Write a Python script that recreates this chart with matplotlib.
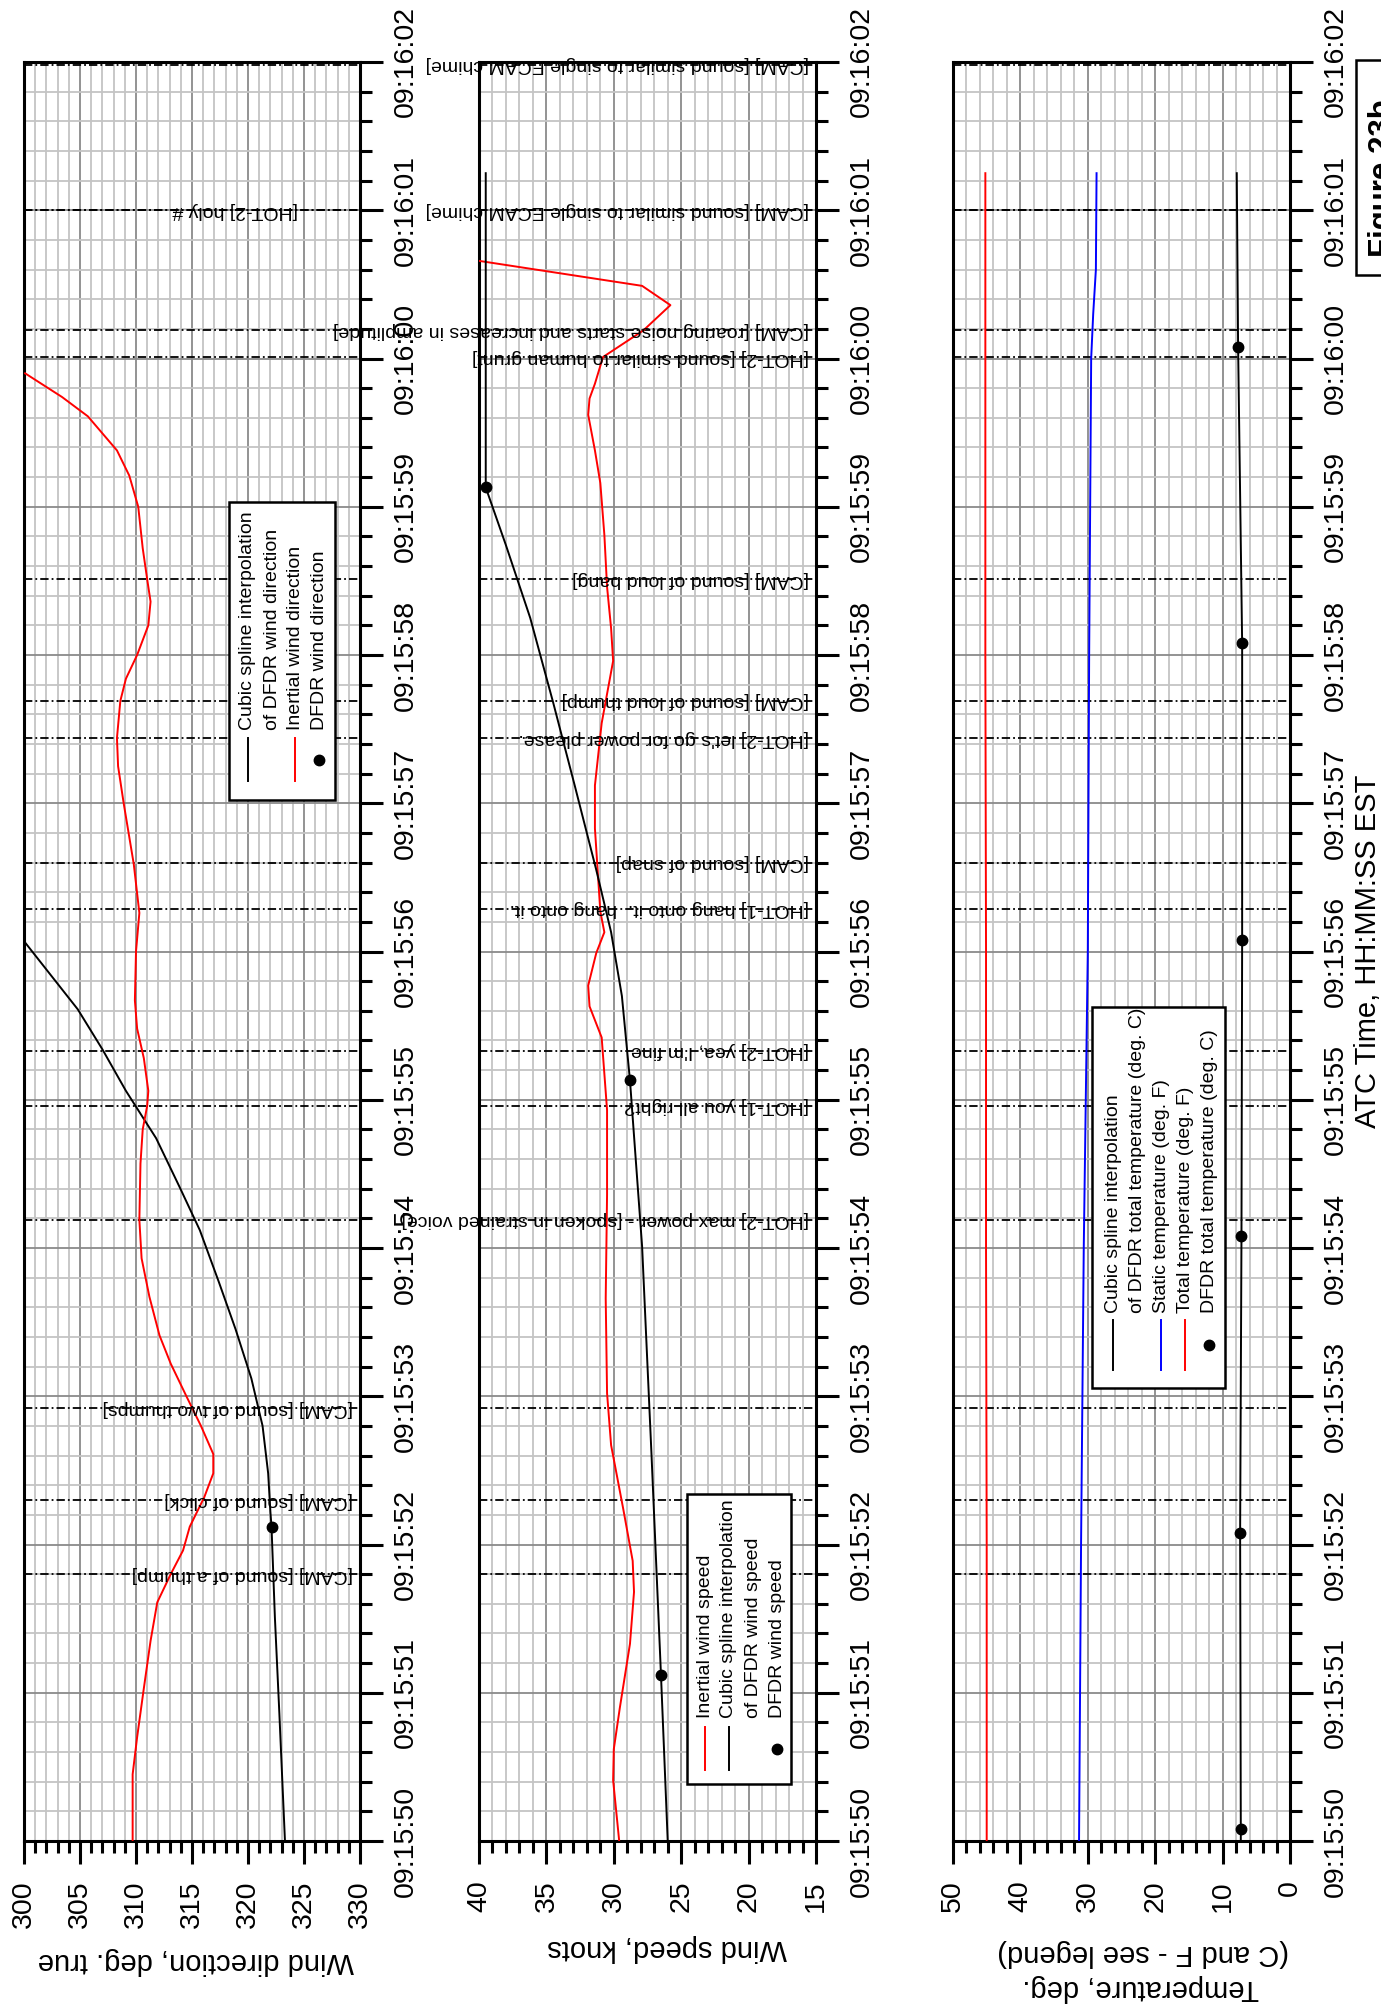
import matplotlib
matplotlib.use("Agg")
import matplotlib.pyplot as plt
import matplotlib.transforms as mtransforms
from matplotlib.ticker import MultipleLocator
from matplotlib.lines import Line2D
from matplotlib.patches import Rectangle

plt.rcParams['font.family'] = ['Liberation Sans', 'DejaVu Sans']
plt.rcParams['lines.scale_dashes'] = False

# ---------------- data (time in seconds after 09:15:00) ----------------
# Wind direction, deg. true
wdir_inertial_t = [50.0, 50.45, 50.7, 51.03, 51.35, 51.61, 51.8, 51.96, 52.12, 52.32, 52.48,
                   52.61, 52.8, 53.0, 53.22, 53.41, 53.67, 53.93, 54.19, 54.57, 54.8, 54.96,
                   55.06, 55.28, 55.48, 55.67, 56.0, 56.26, 56.59, 57.0, 57.25, 57.44, 57.69,
                   57.84, 58.0, 58.2, 58.36, 58.51, 58.72, 59.0, 59.21, 59.38, 59.61, 59.74, 59.9]
wdir_inertial = [309.7, 309.7, 310.1, 310.7, 311.3, 311.9, 313.1, 314.2, 314.8, 316.1, 316.9,
                 316.9, 315.8, 314.5, 313.1, 312.1, 311.2, 310.5, 310.3, 310.4, 310.6, 311.0,
                 311.1, 310.7, 310.1, 309.9, 310.0, 310.3, 309.8, 308.9, 308.4, 308.3, 308.6,
                 309.1, 310.1, 311.1, 311.3, 311.0, 310.6, 310.2, 309.4, 308.3, 305.7, 303.4, 300.1]
wdir_spline_t = [50.0, 50.86, 51.51, 52.12, 52.22, 52.48, 52.8, 53.12, 53.45, 53.77, 54.12,
                 54.41, 54.74, 55.06, 55.34, 55.61, 56.07]
wdir_spline = [323.3, 322.8, 322.4, 322.1, 322.0, 321.8, 321.3, 320.3, 318.9, 317.4, 315.7,
               313.9, 311.8, 309.1, 307.0, 304.8, 300.0]
wdir_dfdr_t = [52.12]
wdir_dfdr = [322.1]

# Wind speed, knots
wspd_inertial_t = [50.0, 50.41, 50.62, 50.9, 51.33, 51.68, 51.89, 52.24, 52.67, 53.02, 53.66,
                   54.36, 54.93, 55.42, 55.63, 55.77, 55.99, 56.13, 56.27, 56.55, 56.83, 57.12,
                   57.54, 57.96, 58.18, 58.46, 58.81, 59.16, 59.38, 59.62, 59.73, 59.83, 60.01,
                   60.19, 60.36, 60.49, 60.66]
wspd_inertial = [29.6, 30.05, 30.0, 29.55, 28.8, 28.5, 28.6, 29.3, 30.2, 30.5, 30.6,
                 30.5, 30.5, 30.9, 31.8, 31.9, 31.3, 30.7, 31.0, 31.2, 31.4, 31.4,
                 30.9, 30.05, 30.2, 30.5, 30.7, 31.0, 31.4, 31.9, 31.8, 31.4, 30.8,
                 27.8, 25.8, 27.9, 40.1]
wspd_spline_t = [50.0, 51.12, 52.6, 54.01, 55.13, 55.7, 56.13, 56.55, 57.12, 57.68, 58.25,
                 58.74, 59.13, 60.0, 61.25]
wspd_spline = [26.0, 26.5, 27.2, 27.9, 28.8, 29.4, 30.2, 31.3, 32.9, 34.5, 36.2,
               38.0, 39.5, 39.5, 39.5]
wspd_dfdr_t = [51.12, 55.13, 59.13]
wspd_dfdr = [26.5, 28.8, 39.5]

# Temperatures
tat_f_t = [50.0, 52.0, 54.0, 56.0, 58.0, 60.0, 61.25]
tat_f = [45.0, 45.0, 45.1, 45.1, 45.2, 45.2, 45.2]
sat_f_t = [50.0, 52.0, 54.0, 56.0, 58.0, 60.0, 60.3, 60.6, 61.25]
sat_f = [31.3, 31.0, 30.6, 30.0, 29.8, 29.5, 29.2, 28.8, 28.7]
tat_c_spline_t = [50.0, 50.08, 52.08, 54.08, 56.08, 58.08, 60.08, 61.25]
tat_c_spline = [7.3, 7.3, 7.4, 7.2, 7.1, 7.1, 7.7, 7.9]
tat_c_dfdr_t = [50.08, 52.08, 54.08, 56.08, 58.08, 60.08]
tat_c_dfdr = [7.3, 7.4, 7.2, 7.1, 7.1, 7.7]

# CVR events: (time, text, panel)
event_t = [51.8, 52.3, 52.92, 54.19, 54.96, 55.33, 56.29, 56.6, 57.44, 57.69, 58.51,
           60.01, 60.19, 61.0, 61.0, 61.98]
event_text = ["[CAM] [sound of a thump]",
              "[CAM] [sound of click]",
              "[CAM] [sound of two thumps]",
              "[HOT-2] max power - [spoken in strained voice]",
              "[HOT-1] you all right?",
              "[HOT-2] yea, I'm fine",
              "[HOT-1] hang onto it.  hang onto it.",
              "[CAM] [sound of snap]",
              "[HOT-2] let's go for power please.",
              "[CAM] [sound of loud thump]",
              "[CAM] [sound of loud bang]",
              "[HOT-2] [sound similar to human grunt]",
              "[CAM] [roaring noise starts and increases in amplitude]",
              "[HOT-2] holy #",
              "[CAM] [sound similar to single ECAM chime]",
              "[CAM] [sound similar to single ECAM chime]"]
event_panel = [0, 0, 0, 1, 1, 1, 1, 1, 1, 1, 1, 1, 1, 0, 1, 1]

# ---------------- layout (pixel geometry of the page) ----------------
W, H = 1381, 2013
fig = plt.figure(figsize=(W / 100, H / 100), dpi=100, facecolor='white')


def fx(px):
    return px / W


def fy(py):
    return 1 - py / H


TOP, BOT = 62, 1841
panels = [(24, 360), (479, 816), (953, 1290)]
axes = [fig.add_axes([fx(l), fy(BOT), (r - l) / W, (BOT - TOP) / H]) for l, r in panels]


def hms(s):
    tot = int(round(s))
    return "09:%02d:%02d" % (15 + tot // 60, tot % 60)


time_major = list(range(50, 63))
xlims = [(300, 330), (40, 15), (50, 0)]
xmajor = [list(range(300, 331, 5)), list(range(40, 14, -5)), list(range(50, -1, -10))]
xminor = [1, 1, 2]

TICK_FS = 20.5
for ax, lim, maj, mnr in zip(axes, xlims, xmajor, xminor):
    ax.set_ylim(50, 62)
    ax.set_xlim(*lim)
    ax.set_yticks(time_major, labels=[hms(s) for s in time_major], rotation=90,
                  va='center', fontsize=TICK_FS)
    ax.yaxis.set_minor_locator(MultipleLocator(0.2))
    ax.set_xticks(maj, labels=[str(v) for v in maj], rotation=90, ha='center', va='top',
                  fontsize=TICK_FS)
    ax.xaxis.set_minor_locator(MultipleLocator(mnr))
    ax.yaxis.tick_right()
    ax.tick_params(axis='y', which='both', left=False, right=True, direction='out', pad=7)
    ax.tick_params(axis='x', which='both', bottom=True, top=False, direction='out', pad=12)
    ax.tick_params(which='major', length=16.5, width=2.2)
    ax.tick_params(which='minor', length=8.5, width=2.2)
    ax.grid(which='minor', color='#c4c4c4', lw=1.3)
    ax.grid(which='major', color='#8a8a8a', lw=1.3)
    ax.set_axisbelow(True)
    for sp in ax.spines.values():
        sp.set_linewidth(2.2)
    for t in event_t:
        ax.axhline(t, color='black', lw=1.3, ls=(0, (6, 2.2, 1.3, 2.2)), zorder=1.5)

ax1, ax2, ax3 = axes

# data curves
ax1.plot(wdir_spline, wdir_spline_t, color='black', lw=1.4, zorder=3)
ax1.plot(wdir_inertial, wdir_inertial_t, color='red', lw=1.4, zorder=3)
ax1.plot(wdir_dfdr, wdir_dfdr_t, 'o', color='black', ms=7.5, zorder=4)

ax2.plot(wspd_inertial, wspd_inertial_t, color='red', lw=1.4, zorder=3)
ax2.plot(wspd_spline, wspd_spline_t, color='black', lw=1.4, zorder=3)
ax2.plot(wspd_dfdr, wspd_dfdr_t, 'o', color='black', ms=7.5, zorder=4)

ax3.plot(tat_c_spline, tat_c_spline_t, color='black', lw=1.4, zorder=3)
ax3.plot(sat_f, sat_f_t, color='blue', lw=1.4, zorder=3)
ax3.plot(tat_f, tat_f_t, color='red', lw=1.4, zorder=3)
ax3.plot(tat_c_dfdr, tat_c_dfdr_t, 'o', color='black', ms=7.5, zorder=4)

# event annotations, upside down, starting near the right edge of their panel
ANN_FS = 14
for t, s, p in zip(event_t, event_text, event_panel):
    ax = axes[p]
    l, r = panels[p]
    inset = 62 if s.startswith("[HOT-2] holy") else 7
    tr = mtransforms.blended_transform_factory(ax.transAxes, ax.transData)
    ax.text(1 - inset / (r - l), t, s, transform=tr, rotation=180, rotation_mode='anchor',
            ha='left', va='center', fontsize=ANN_FS, zorder=5, clip_on=False)

# value-axis titles (upside down below each panel)
LBL_FS = 21
for x, y, s in [(196, 1953, "Wind direction, deg. true"),
                (667, 1940, "Wind speed, knots"),
                (1143, 1945, "(C and F - see legend)"),
                (1141, 1980, "Temperature, deg.")]:
    fig.text(fx(x), fy(y), s, rotation=180, rotation_mode='anchor', ha='center',
             va='baseline', fontsize=LBL_FS)

# time-axis title
fig.text(fx(1376), fy(951), "ATC Time, HH:MM:SS EST", rotation=90, rotation_mode='anchor',
         ha='center', va='baseline', fontsize=LBL_FS)

# figure tag
fig.add_artist(Rectangle((fx(1356), fy(275)), 80 / W, 215 / H, transform=fig.transFigure,
                         facecolor='white', edgecolor='black', lw=1.8, zorder=5))
fig.text(fx(1391), fy(178), "Figure 23b", rotation=90, rotation_mode='anchor', ha='center',
         va='baseline', fontsize=22.5, fontweight='bold', zorder=6)


# legends
def legend(box, text_start, handle_span, entries):
    x0, x1, y0, y1 = box
    fig.add_artist(Rectangle((fx(x0), fy(y1)), (x1 - x0) / W, (y1 - y0) / H,
                             transform=fig.transFigure, facecolor='white',
                             edgecolor='black', lw=1.8, zorder=5))
    for kind, color, col_x, lines in entries:
        hy0, hy1 = handle_span
        if kind == 'line':
            fig.add_artist(Line2D([fx(col_x), fx(col_x)], [fy(hy0), fy(hy1)],
                                  transform=fig.transFigure, color=color, lw=1.4, zorder=6))
        else:
            fig.add_artist(Line2D([fx(col_x)], [fy((hy0 + hy1) / 2)], marker='o', ms=7.5,
                                  color=color, transform=fig.transFigure, zorder=6))
        for i, s in enumerate(lines):
            fig.text(fx(col_x + 24.5 * i), fy(text_start), s, rotation=90,
                     rotation_mode='anchor', ha='left', va='center', fontsize=ANN_FS,
                     zorder=6)


legend((229, 335, 502, 800), 730, (738, 781),
       [('line', 'black', 248, ["Cubic spline interpolation", "of DFDR wind direction"]),
        ('line', 'red', 295, ["Inertial wind direction"]),
        ('dot', 'black', 319, ["DFDR wind direction"])])

legend((687, 791, 1494, 1784), 1718, (1727, 1770),
       [('line', 'red', 705, ["Inertial wind speed"]),
        ('line', 'black', 729, ["Cubic spline interpolation", "of DFDR wind speed"]),
        ('dot', 'black', 777, ["DFDR wind speed"])])

legend((1092, 1225, 1007, 1388), 1313, (1320, 1370),
       [('line', 'black', 1113, ["Cubic spline interpolation",
                                 "of DFDR total temperature (deg. C)"]),
        ('line', 'blue', 1161, ["Static temperature (deg. F)"]),
        ('line', 'red', 1185, ["Total temperature (deg. F)"]),
        ('dot', 'black', 1209, ["DFDR total temperature (deg. C)"])])

fig.savefig("out.png", dpi=100, facecolor='white')
